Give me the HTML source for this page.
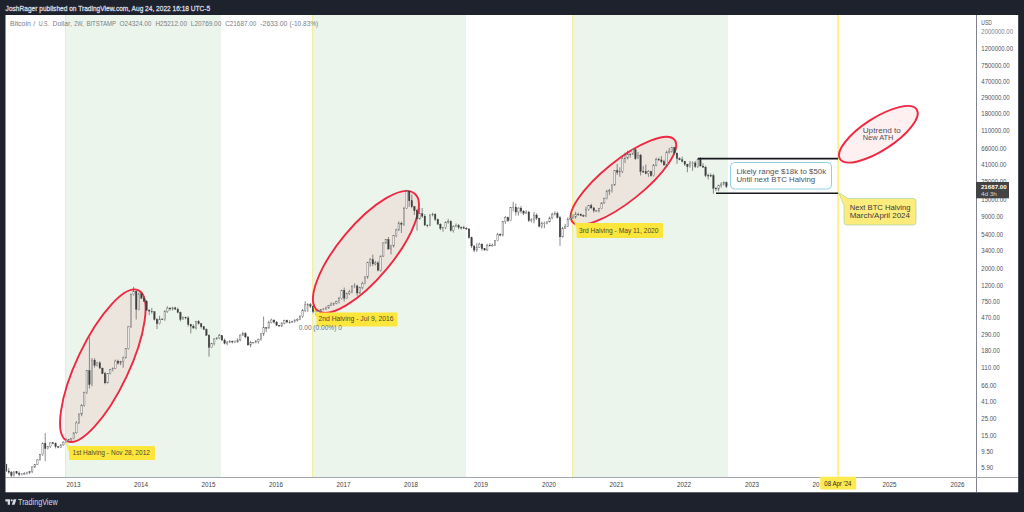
<!DOCTYPE html>
<html><head><meta charset="utf-8"><title>BTC chart</title>
<style>
html,body{margin:0;padding:0;width:1024px;height:512px;overflow:hidden;background:#1e222d;}
svg{display:block;font-family:"Liberation Sans",sans-serif;}
</style></head><body>
<svg width="1024" height="512" viewBox="0 0 1024 512">
<rect x="0" y="0" width="1024" height="512" fill="#1e222d"/>
<!-- header -->
<text x="5.6" y="10.6" fill="#d6d9e0" stroke="#d6d9e0" stroke-width="0.3" font-size="7.3" textLength="204.6" lengthAdjust="spacingAndGlyphs">JoshRager published on TradingView.com, Aug 24, 2022 16:18 UTC-5</text>
<!-- chart panel -->
<rect x="5.5" y="15" width="1012.7" height="477.3" fill="#ffffff"/>
<!-- green bands -->
<g fill="#ebf5ec">
<rect x="66" y="15" width="155" height="462"/>
<rect x="313" y="15" width="153" height="462"/>
<rect x="573" y="15" width="155" height="462"/>
</g>
<!-- halving lines -->
<g fill="#f5ee9e">
<rect x="65" y="15" width="1" height="462"/>
<rect x="312" y="15" width="1.2" height="462"/>
<rect x="572" y="15" width="1.2" height="462"/>
</g>
<rect x="837.2" y="15" width="1.8" height="462" fill="#fff08a"/>
<!-- title -->
<g fill="#7b7e88" font-size="7.2">
<text x="10" y="25.5" textLength="20.9" lengthAdjust="spacingAndGlyphs">Bitcoin</text>
<text x="33.2" y="25.5" textLength="2" lengthAdjust="spacingAndGlyphs">/</text>
<text x="38.7" y="25.5" textLength="10.5" lengthAdjust="spacingAndGlyphs">U.S.</text>
<text x="52.6" y="25.5" textLength="19.3" lengthAdjust="spacingAndGlyphs">Dollar,</text>
<text x="74.3" y="25.5" textLength="9.5" lengthAdjust="spacingAndGlyphs">2W,</text>
<text x="86.4" y="25.5" textLength="29.7" lengthAdjust="spacingAndGlyphs">BITSTAMP</text>
<text x="119.6" y="25.5" textLength="31.8" lengthAdjust="spacingAndGlyphs">O24324.00</text>
<text x="155.4" y="25.5" textLength="31.6" lengthAdjust="spacingAndGlyphs">H25212.00</text>
<text x="190.8" y="25.5" textLength="30.5" lengthAdjust="spacingAndGlyphs">L20769.00</text>
<text x="225.2" y="25.5" textLength="31.1" lengthAdjust="spacingAndGlyphs">C21687.00</text>
<text x="260.3" y="25.5" textLength="27.1" lengthAdjust="spacingAndGlyphs">-2633.00</text>
<text x="289.6" y="25.5" textLength="28.7" lengthAdjust="spacingAndGlyphs">(-10.83%)</text>
</g>
<!-- ellipses -->
<g fill="rgba(242,54,69,0.08)" stroke="#ef2843" stroke-width="1.9">
<ellipse cx="102.82" cy="365.74" rx="83.41" ry="26.09" transform="rotate(-64.71 102.82 365.74)"/>
<ellipse cx="365.92" cy="251.89" rx="76.02" ry="26.93" transform="rotate(-50.18 365.92 251.89)"/>
<ellipse cx="623.45" cy="180.89" rx="65.56" ry="20.49" transform="rotate(-38.73 623.45 180.89)"/>
<ellipse cx="878.37" cy="134.29" rx="45.69" ry="16.22" transform="rotate(-32.87 878.37 134.29)"/>
</g>
<!-- candles -->
<clipPath id="cp"><rect x="6" y="15" width="970" height="462"/></clipPath>
<g clip-path="url(#cp)"><path d="M1.00 469.67V480.34M3.60 461.69V472.79M6.20 463.75V472.01M8.80 468.04V473.72M11.40 470.92V478.10M14.00 471.34V476.71M16.60 471.08V473.90M19.20 471.42V476.25M21.80 473.00V475.29M24.40 472.17V474.71M27.00 471.66V474.58M29.60 470.85V474.11M32.20 466.28V473.16M34.80 463.93V468.03M37.40 459.09V465.00M40.00 453.90V460.51M42.60 442.43V455.73M45.20 432.99V461.21M47.80 445.95V449.47M50.40 442.20V447.85M53.00 442.41V444.33M55.60 442.47V448.42M58.20 445.89V448.28M60.80 444.28V447.81M63.40 441.21V445.78M66.00 437.90V442.87M68.60 439.08V440.45M71.20 438.15V441.27M73.80 432.30V439.35M76.40 421.17V433.64M79.00 413.13V423.85M81.60 404.18V416.24M84.20 391.66V406.61M86.80 370.21V394.04M89.40 337.46V388.51M92.00 358.10V386.31M94.60 358.23V367.55M97.20 361.94V366.49M99.80 361.16V368.84M102.40 367.65V374.13M105.00 372.02V384.22M107.60 373.11V383.34M110.20 369.00V374.41M112.80 367.35V371.32M115.40 359.63V369.02M118.00 359.64V364.72M120.60 360.78V365.21M123.20 356.53V367.73M125.80 348.07V358.41M128.40 325.91V349.53M131.00 293.52V327.80M133.60 286.87V295.59M136.20 290.63V319.43M138.80 292.79V310.32M141.40 292.44V298.77M144.00 296.41V301.95M146.60 299.99V310.96M149.20 309.02V315.14M151.80 307.89V313.75M154.40 311.29V320.47M157.00 318.17V329.04M159.60 315.82V324.52M162.20 318.33V319.95M164.80 310.20V320.84M167.40 306.30V312.92M170.00 307.09V310.73M172.60 306.84V310.54M175.20 306.68V309.61M177.80 307.67V313.22M180.40 311.58V321.41M183.00 316.43V319.93M185.60 316.58V319.40M188.20 316.23V326.44M190.80 323.81V333.33M193.40 324.34V328.72M196.00 320.85V329.44M198.60 320.20V324.63M201.20 323.26V328.44M203.80 326.13V330.07M206.40 328.43V335.81M209.00 334.32V356.64M211.60 342.93V347.82M214.20 338.19V345.45M216.80 337.18V339.80M219.40 333.91V339.07M222.00 335.18V340.77M224.60 338.49V344.37M227.20 341.19V345.41M229.80 339.98V343.04M232.40 340.45V343.46M235.00 340.31V343.16M237.60 338.42V342.50M240.20 334.50V341.31M242.80 331.64V336.08M245.40 332.15V338.13M248.00 336.05V345.75M250.60 340.86V347.23M253.20 342.01V343.04M255.80 339.99V343.26M258.40 338.62V343.65M261.00 332.79V340.61M263.60 316.51V336.03M266.20 327.17V332.21M268.80 320.65V328.70M271.40 318.60V323.46M274.00 319.55V323.72M276.60 320.93V325.95M279.20 324.85V326.66M281.80 322.39V326.90M284.40 319.61V324.48M287.00 319.61V323.34M289.60 320.13V323.40M292.20 320.65V322.58M294.80 319.17V322.74M297.40 318.14V321.64M300.00 315.33V320.23M302.60 308.98V317.81M305.20 301.23V312.19M307.80 303.15V311.93M310.40 303.05V307.99M313.00 305.70V313.34M315.60 309.84V315.14M318.20 310.33V311.93M320.80 309.00V312.03M323.40 308.03V310.26M326.00 306.43V309.95M328.60 305.18V308.58M331.20 302.32V306.04M333.80 302.72V305.89M336.40 300.71V304.34M339.00 296.90V303.43M341.60 289.77V299.47M344.20 287.56V301.46M346.80 292.63V298.72M349.40 289.87V295.02M352.00 285.27V293.14M354.60 283.32V287.86M357.20 284.67V295.66M359.80 286.72V293.90M362.40 281.72V289.33M365.00 276.24V284.27M367.60 261.83V278.81M370.20 257.99V266.61M372.80 254.61V265.98M375.40 260.91V265.40M378.00 261.14V271.33M380.60 255.59V271.56M383.20 242.29V257.03M385.80 238.99V243.68M388.40 237.00V249.44M391.00 244.81V254.38M393.60 235.28V247.40M396.20 228.67V237.23M398.80 221.41V230.76M401.40 221.62V232.98M404.00 206.88V226.03M406.60 189.85V208.96M409.20 190.56V206.85M411.80 194.51V208.29M414.40 205.96V214.86M417.00 209.16V230.61M419.60 207.72V219.60M422.20 208.01V217.84M424.80 214.10V225.87M427.40 224.47V227.35M430.00 214.44V226.19M432.60 212.77V216.38M435.20 213.33V220.93M437.80 218.61V224.84M440.40 223.29V230.18M443.00 227.06V231.78M445.60 221.59V229.04M448.20 218.87V223.72M450.80 220.30V231.55M453.40 225.32V232.58M456.00 223.42V227.27M458.60 224.07V229.33M461.20 226.44V229.61M463.80 225.79V228.89M466.40 227.15V229.84M469.00 228.28V238.74M471.60 236.67V248.13M474.20 245.06V252.17M476.80 242.84V251.76M479.40 242.72V247.81M482.00 243.46V250.60M484.60 248.22V250.91M487.20 243.74V250.92M489.80 243.26V246.36M492.40 243.73V246.57M495.00 239.97V246.16M497.60 232.77V241.13M500.20 233.29V236.19M502.80 221.03V236.38M505.40 216.08V223.89M508.00 216.67V222.06M510.60 207.13V221.18M513.20 201.86V211.43M515.80 203.58V215.59M518.40 207.28V215.59M521.00 206.00V213.44M523.60 210.15V215.04M526.20 210.15V213.66M528.80 210.93V222.06M531.40 218.27V222.39M534.00 212.09V223.42M536.60 213.38V220.11M539.20 217.66V227.39M541.80 221.62V228.37M544.40 221.62V228.14M547.00 221.20V224.36M549.60 216.60V222.42M552.20 212.56V219.12M554.80 211.43V215.51M557.40 211.60V218.47M560.00 215.96V245.83M562.60 226.83V237.28M565.20 223.89V229.06M567.80 217.25V227.09M570.40 213.27V219.81M573.00 214.14V218.98M575.60 211.76V218.75M578.20 212.70V215.94M580.80 213.51V216.15M583.40 214.38V216.72M586.00 206.56V217.01M588.60 204.94V210.81M591.20 203.80V209.06M593.80 207.20V212.76M596.40 209.89V211.76M599.00 207.82V212.39M601.60 202.35V209.23M604.20 197.53V203.93M606.80 189.71V199.29M609.40 188.85V194.91M612.00 184.24V192.61M614.60 170.02V185.79M617.20 163.94V174.98M619.80 167.33V176.83M622.40 157.22V173.14M625.00 152.62V163.09M627.60 150.71V159.36M630.20 153.57V157.71M632.80 149.30V154.88M635.40 148.97V160.04M638.00 151.95V159.12M640.60 153.91V175.43M643.20 166.00V172.98M645.80 164.47V174.32M648.40 170.00V176.83M651.00 170.82V176.66M653.60 164.16V176.62M656.20 157.67V166.31M658.80 157.58V160.57M661.40 155.98V163.25M664.00 159.79V165.91M666.60 150.71V166.83M669.20 147.88V153.64M671.80 146.87V152.66M674.40 146.87V154.93M677.00 152.61V163.89M679.60 157.32V160.31M682.20 156.57V162.49M684.80 160.89V165.91M687.40 163.82V172.27M690.00 160.92V167.78M692.60 161.31V170.84M695.20 160.94V168.06M697.80 157.98V168.12M700.40 157.28V166.66M703.00 163.17V167.98M705.60 165.65V177.17M708.20 173.49V179.43M710.80 173.43V177.07M713.40 173.77V193.72M716.00 187.05V191.09M718.60 184.70V191.27M721.20 182.24V187.66M723.80 181.41V185.35M726.40 181.39V188.04" stroke="#5a5a5a" stroke-width="0.7" fill="none"/><g fill="#f4f4f4" stroke="#6a6a6a" stroke-width="0.45"><rect x="0.25" y="471.19" width="1.5" height="8.51"/><rect x="2.85" y="464.36" width="1.5" height="6.82"/><rect x="13.25" y="471.79" width="1.5" height="3.72"/><rect x="21.05" y="474.06" width="1.5" height="0.60"/><rect x="23.65" y="473.43" width="1.5" height="0.64"/><rect x="26.25" y="472.80" width="1.5" height="0.62"/><rect x="28.85" y="471.32" width="1.5" height="1.48"/><rect x="31.45" y="466.95" width="1.5" height="4.37"/><rect x="34.05" y="464.40" width="1.5" height="2.55"/><rect x="36.65" y="459.90" width="1.5" height="4.50"/><rect x="39.25" y="454.69" width="1.5" height="5.21"/><rect x="41.85" y="443.26" width="1.5" height="11.43"/><rect x="47.05" y="446.63" width="1.5" height="1.93"/><rect x="49.65" y="442.83" width="1.5" height="3.79"/><rect x="60.05" y="444.91" width="1.5" height="2.39"/><rect x="62.65" y="442.19" width="1.5" height="2.72"/><rect x="65.25" y="439.89" width="1.5" height="2.30"/><rect x="67.85" y="439.68" width="1.5" height="0.60"/><rect x="70.45" y="438.61" width="1.5" height="1.07"/><rect x="73.05" y="432.82" width="1.5" height="5.79"/><rect x="75.65" y="422.94" width="1.5" height="9.88"/><rect x="78.25" y="414.21" width="1.5" height="8.73"/><rect x="80.85" y="405.48" width="1.5" height="8.73"/><rect x="83.45" y="392.50" width="1.5" height="12.98"/><rect x="86.05" y="370.68" width="1.5" height="21.82"/><rect x="91.25" y="360.11" width="1.5" height="24.44"/><rect x="96.45" y="362.86" width="1.5" height="2.65"/><rect x="106.85" y="373.59" width="1.5" height="9.26"/><rect x="109.45" y="369.67" width="1.5" height="3.92"/><rect x="112.05" y="368.43" width="1.5" height="1.24"/><rect x="114.65" y="361.06" width="1.5" height="7.37"/><rect x="119.85" y="361.22" width="1.5" height="1.99"/><rect x="122.45" y="357.92" width="1.5" height="3.31"/><rect x="125.05" y="348.53" width="1.5" height="9.38"/><rect x="127.65" y="326.84" width="1.5" height="21.69"/><rect x="130.25" y="294.70" width="1.5" height="32.14"/><rect x="132.85" y="291.19" width="1.5" height="3.51"/><rect x="138.05" y="293.81" width="1.5" height="15.51"/><rect x="158.85" y="319.01" width="1.5" height="4.74"/><rect x="164.05" y="311.50" width="1.5" height="8.01"/><rect x="166.65" y="308.07" width="1.5" height="3.43"/><rect x="171.85" y="307.86" width="1.5" height="1.07"/><rect x="182.25" y="317.26" width="1.5" height="2.16"/><rect x="195.25" y="321.71" width="1.5" height="6.31"/><rect x="210.85" y="343.56" width="1.5" height="3.85"/><rect x="213.45" y="338.91" width="1.5" height="4.65"/><rect x="216.05" y="338.01" width="1.5" height="0.90"/><rect x="218.65" y="335.77" width="1.5" height="2.25"/><rect x="226.45" y="342.04" width="1.5" height="1.45"/><rect x="229.05" y="341.45" width="1.5" height="0.60"/><rect x="234.25" y="342.05" width="1.5" height="0.60"/><rect x="236.85" y="339.90" width="1.5" height="2.15"/><rect x="239.45" y="335.03" width="1.5" height="4.88"/><rect x="242.05" y="333.47" width="1.5" height="1.55"/><rect x="249.85" y="342.44" width="1.5" height="2.54"/><rect x="252.45" y="342.44" width="1.5" height="0.60"/><rect x="255.05" y="341.68" width="1.5" height="0.77"/><rect x="257.65" y="339.43" width="1.5" height="2.24"/><rect x="260.25" y="334.00" width="1.5" height="5.44"/><rect x="262.85" y="327.72" width="1.5" height="6.28"/><rect x="268.05" y="322.67" width="1.5" height="5.30"/><rect x="270.65" y="320.01" width="1.5" height="2.65"/><rect x="281.05" y="323.04" width="1.5" height="3.07"/><rect x="283.65" y="320.43" width="1.5" height="2.61"/><rect x="291.45" y="321.58" width="1.5" height="0.60"/><rect x="294.05" y="320.18" width="1.5" height="1.40"/><rect x="296.65" y="319.26" width="1.5" height="0.92"/><rect x="299.25" y="316.43" width="1.5" height="2.83"/><rect x="301.85" y="310.43" width="1.5" height="6.00"/><rect x="304.45" y="304.80" width="1.5" height="5.63"/><rect x="307.05" y="304.70" width="1.5" height="0.60"/><rect x="314.85" y="311.32" width="1.5" height="0.60"/><rect x="317.45" y="311.17" width="1.5" height="0.60"/><rect x="320.05" y="309.43" width="1.5" height="1.74"/><rect x="322.65" y="309.08" width="1.5" height="0.60"/><rect x="325.25" y="307.94" width="1.5" height="1.14"/><rect x="327.85" y="305.62" width="1.5" height="2.31"/><rect x="330.45" y="304.05" width="1.5" height="1.57"/><rect x="333.05" y="303.17" width="1.5" height="0.88"/><rect x="335.65" y="301.68" width="1.5" height="1.49"/><rect x="338.25" y="298.74" width="1.5" height="2.94"/><rect x="340.85" y="290.40" width="1.5" height="8.34"/><rect x="346.05" y="293.49" width="1.5" height="4.75"/><rect x="348.65" y="291.92" width="1.5" height="1.57"/><rect x="351.25" y="286.52" width="1.5" height="5.40"/><rect x="353.85" y="285.96" width="1.5" height="0.60"/><rect x="359.05" y="287.39" width="1.5" height="5.60"/><rect x="361.65" y="283.61" width="1.5" height="3.78"/><rect x="364.25" y="277.01" width="1.5" height="6.59"/><rect x="366.85" y="262.45" width="1.5" height="14.56"/><rect x="369.45" y="259.79" width="1.5" height="2.66"/><rect x="374.65" y="262.86" width="1.5" height="1.06"/><rect x="379.85" y="256.02" width="1.5" height="14.29"/><rect x="382.45" y="242.97" width="1.5" height="13.05"/><rect x="385.05" y="239.56" width="1.5" height="3.41"/><rect x="390.25" y="245.94" width="1.5" height="3.09"/><rect x="392.85" y="235.75" width="1.5" height="10.19"/><rect x="395.45" y="229.96" width="1.5" height="5.80"/><rect x="398.05" y="223.25" width="1.5" height="6.71"/><rect x="403.25" y="208.31" width="1.5" height="15.99"/><rect x="405.85" y="191.09" width="1.5" height="17.22"/><rect x="418.85" y="213.69" width="1.5" height="5.24"/><rect x="429.25" y="214.88" width="1.5" height="10.27"/><rect x="431.85" y="214.18" width="1.5" height="0.70"/><rect x="442.25" y="227.61" width="1.5" height="0.83"/><rect x="444.85" y="222.05" width="1.5" height="5.56"/><rect x="447.45" y="221.49" width="1.5" height="0.60"/><rect x="452.65" y="226.63" width="1.5" height="3.90"/><rect x="455.25" y="225.65" width="1.5" height="0.99"/><rect x="476.05" y="247.19" width="1.5" height="2.91"/><rect x="478.65" y="244.09" width="1.5" height="3.10"/><rect x="486.45" y="245.39" width="1.5" height="4.55"/><rect x="491.65" y="245.06" width="1.5" height="0.87"/><rect x="494.25" y="240.61" width="1.5" height="4.45"/><rect x="496.85" y="234.26" width="1.5" height="6.35"/><rect x="502.05" y="221.62" width="1.5" height="13.58"/><rect x="504.65" y="217.58" width="1.5" height="4.03"/><rect x="509.85" y="207.59" width="1.5" height="13.16"/><rect x="512.45" y="207.13" width="1.5" height="0.60"/><rect x="517.65" y="208.07" width="1.5" height="3.95"/><rect x="525.45" y="212.04" width="1.5" height="1.16"/><rect x="530.65" y="219.88" width="1.5" height="0.75"/><rect x="533.25" y="215.05" width="1.5" height="4.84"/><rect x="541.05" y="223.54" width="1.5" height="2.78"/><rect x="543.65" y="223.12" width="1.5" height="0.60"/><rect x="546.25" y="221.84" width="1.5" height="1.28"/><rect x="548.85" y="217.96" width="1.5" height="3.88"/><rect x="551.45" y="214.47" width="1.5" height="3.49"/><rect x="554.05" y="213.48" width="1.5" height="0.99"/><rect x="561.85" y="228.14" width="1.5" height="8.73"/><rect x="564.45" y="226.38" width="1.5" height="1.76"/><rect x="567.05" y="219.31" width="1.5" height="7.07"/><rect x="569.65" y="218.27" width="1.5" height="1.04"/><rect x="572.25" y="217.10" width="1.5" height="1.18"/><rect x="574.85" y="214.14" width="1.5" height="2.95"/><rect x="585.25" y="209.52" width="1.5" height="6.55"/><rect x="587.85" y="205.45" width="1.5" height="4.07"/><rect x="595.65" y="210.78" width="1.5" height="0.60"/><rect x="598.25" y="208.61" width="1.5" height="2.17"/><rect x="600.85" y="202.90" width="1.5" height="5.70"/><rect x="603.45" y="198.52" width="1.5" height="4.38"/><rect x="606.05" y="191.57" width="1.5" height="6.95"/><rect x="608.65" y="190.73" width="1.5" height="0.84"/><rect x="611.25" y="184.99" width="1.5" height="5.74"/><rect x="613.85" y="170.52" width="1.5" height="14.47"/><rect x="619.05" y="171.65" width="1.5" height="0.69"/><rect x="621.65" y="158.78" width="1.5" height="12.87"/><rect x="624.25" y="158.19" width="1.5" height="0.60"/><rect x="626.85" y="154.03" width="1.5" height="4.16"/><rect x="632.05" y="149.74" width="1.5" height="4.40"/><rect x="637.25" y="155.11" width="1.5" height="3.52"/><rect x="647.65" y="171.34" width="1.5" height="2.20"/><rect x="652.85" y="165.10" width="1.5" height="10.66"/><rect x="655.45" y="159.49" width="1.5" height="5.61"/><rect x="665.85" y="152.41" width="1.5" height="12.48"/><rect x="668.45" y="151.25" width="1.5" height="1.16"/><rect x="671.05" y="147.63" width="1.5" height="3.62"/><rect x="689.25" y="163.13" width="1.5" height="3.60"/><rect x="691.85" y="162.93" width="1.5" height="0.60"/><rect x="697.05" y="159.17" width="1.5" height="7.40"/><rect x="717.85" y="185.30" width="1.5" height="3.70"/><rect x="720.45" y="184.10" width="1.5" height="1.20"/><rect x="723.05" y="182.62" width="1.5" height="1.47"/></g><g fill="#3c3c3c" stroke="#3c3c3c" stroke-width="0.3"><rect x="5.45" y="464.36" width="1.5" height="6.62"/><rect x="8.05" y="470.98" width="1.5" height="1.33"/><rect x="10.65" y="472.31" width="1.5" height="3.20"/><rect x="15.85" y="471.79" width="1.5" height="1.44"/><rect x="18.45" y="473.23" width="1.5" height="1.18"/><rect x="44.45" y="443.26" width="1.5" height="5.30"/><rect x="52.25" y="442.83" width="1.5" height="0.72"/><rect x="54.85" y="443.55" width="1.5" height="3.20"/><rect x="57.45" y="446.75" width="1.5" height="0.60"/><rect x="88.65" y="370.68" width="1.5" height="13.87"/><rect x="93.85" y="360.11" width="1.5" height="5.40"/><rect x="99.05" y="362.86" width="1.5" height="5.23"/><rect x="101.65" y="368.09" width="1.5" height="5.54"/><rect x="104.25" y="373.63" width="1.5" height="9.22"/><rect x="117.25" y="361.06" width="1.5" height="2.15"/><rect x="135.45" y="291.19" width="1.5" height="18.13"/><rect x="140.65" y="293.81" width="1.5" height="4.46"/><rect x="143.25" y="298.27" width="1.5" height="3.10"/><rect x="145.85" y="301.37" width="1.5" height="8.83"/><rect x="148.45" y="310.21" width="1.5" height="0.95"/><rect x="151.05" y="311.15" width="1.5" height="0.60"/><rect x="153.65" y="311.74" width="1.5" height="7.69"/><rect x="156.25" y="319.43" width="1.5" height="4.32"/><rect x="161.45" y="319.01" width="1.5" height="0.60"/><rect x="169.25" y="308.07" width="1.5" height="0.86"/><rect x="174.45" y="307.86" width="1.5" height="1.33"/><rect x="177.05" y="309.19" width="1.5" height="3.24"/><rect x="179.65" y="312.43" width="1.5" height="7.00"/><rect x="184.85" y="317.26" width="1.5" height="0.67"/><rect x="187.45" y="317.94" width="1.5" height="6.52"/><rect x="190.05" y="324.46" width="1.5" height="1.68"/><rect x="192.65" y="326.13" width="1.5" height="1.88"/><rect x="197.85" y="321.71" width="1.5" height="1.96"/><rect x="200.45" y="323.67" width="1.5" height="3.14"/><rect x="203.05" y="326.81" width="1.5" height="2.58"/><rect x="205.65" y="329.39" width="1.5" height="5.96"/><rect x="208.25" y="335.35" width="1.5" height="12.05"/><rect x="221.25" y="335.77" width="1.5" height="4.34"/><rect x="223.85" y="340.11" width="1.5" height="3.39"/><rect x="231.65" y="341.45" width="1.5" height="0.60"/><rect x="244.65" y="333.47" width="1.5" height="3.46"/><rect x="247.25" y="336.94" width="1.5" height="8.05"/><rect x="265.45" y="327.72" width="1.5" height="0.60"/><rect x="273.25" y="320.01" width="1.5" height="2.10"/><rect x="275.85" y="322.12" width="1.5" height="3.31"/><rect x="278.45" y="325.43" width="1.5" height="0.67"/><rect x="286.25" y="320.43" width="1.5" height="1.65"/><rect x="288.85" y="322.09" width="1.5" height="0.60"/><rect x="309.65" y="304.70" width="1.5" height="1.49"/><rect x="312.25" y="306.19" width="1.5" height="5.48"/><rect x="343.45" y="290.40" width="1.5" height="7.84"/><rect x="356.45" y="285.96" width="1.5" height="7.02"/><rect x="372.05" y="259.79" width="1.5" height="4.13"/><rect x="377.25" y="262.86" width="1.5" height="7.45"/><rect x="387.65" y="239.56" width="1.5" height="9.47"/><rect x="400.65" y="223.25" width="1.5" height="1.05"/><rect x="408.45" y="191.09" width="1.5" height="9.71"/><rect x="411.05" y="200.80" width="1.5" height="5.86"/><rect x="413.65" y="206.66" width="1.5" height="4.13"/><rect x="416.25" y="210.79" width="1.5" height="8.14"/><rect x="421.45" y="213.69" width="1.5" height="2.46"/><rect x="424.05" y="216.15" width="1.5" height="8.93"/><rect x="426.65" y="225.08" width="1.5" height="0.60"/><rect x="434.45" y="214.18" width="1.5" height="5.13"/><rect x="437.05" y="219.30" width="1.5" height="4.88"/><rect x="439.65" y="224.18" width="1.5" height="4.25"/><rect x="450.05" y="221.49" width="1.5" height="9.04"/><rect x="457.85" y="225.65" width="1.5" height="1.82"/><rect x="460.45" y="227.46" width="1.5" height="0.60"/><rect x="463.05" y="227.62" width="1.5" height="0.74"/><rect x="465.65" y="228.36" width="1.5" height="0.60"/><rect x="468.25" y="228.87" width="1.5" height="8.79"/><rect x="470.85" y="237.66" width="1.5" height="8.38"/><rect x="473.45" y="246.05" width="1.5" height="4.05"/><rect x="481.25" y="244.09" width="1.5" height="4.64"/><rect x="483.85" y="248.73" width="1.5" height="1.21"/><rect x="489.05" y="245.39" width="1.5" height="0.60"/><rect x="499.45" y="234.26" width="1.5" height="0.94"/><rect x="507.25" y="217.58" width="1.5" height="3.17"/><rect x="515.05" y="207.13" width="1.5" height="4.89"/><rect x="520.25" y="208.07" width="1.5" height="3.04"/><rect x="522.85" y="211.12" width="1.5" height="2.09"/><rect x="528.05" y="212.04" width="1.5" height="8.58"/><rect x="535.85" y="215.05" width="1.5" height="3.09"/><rect x="538.45" y="218.14" width="1.5" height="8.19"/><rect x="556.65" y="213.48" width="1.5" height="4.28"/><rect x="559.25" y="217.75" width="1.5" height="19.11"/><rect x="577.45" y="214.14" width="1.5" height="0.60"/><rect x="580.05" y="214.32" width="1.5" height="1.27"/><rect x="582.65" y="215.59" width="1.5" height="0.60"/><rect x="590.45" y="205.45" width="1.5" height="2.41"/><rect x="593.05" y="207.86" width="1.5" height="2.92"/><rect x="616.45" y="170.52" width="1.5" height="1.82"/><rect x="629.45" y="154.03" width="1.5" height="0.60"/><rect x="634.65" y="149.74" width="1.5" height="8.89"/><rect x="639.85" y="155.11" width="1.5" height="16.36"/><rect x="642.45" y="171.46" width="1.5" height="0.60"/><rect x="645.05" y="171.65" width="1.5" height="1.89"/><rect x="650.25" y="171.34" width="1.5" height="4.42"/><rect x="658.05" y="159.49" width="1.5" height="0.60"/><rect x="660.65" y="159.96" width="1.5" height="1.64"/><rect x="663.25" y="161.61" width="1.5" height="3.29"/><rect x="673.65" y="147.63" width="1.5" height="5.45"/><rect x="676.25" y="153.07" width="1.5" height="5.56"/><rect x="678.85" y="158.63" width="1.5" height="1.16"/><rect x="681.45" y="159.80" width="1.5" height="1.51"/><rect x="684.05" y="161.31" width="1.5" height="2.93"/><rect x="686.65" y="164.24" width="1.5" height="2.48"/><rect x="694.45" y="162.93" width="1.5" height="3.65"/><rect x="699.65" y="159.17" width="1.5" height="6.83"/><rect x="702.25" y="166.00" width="1.5" height="1.15"/><rect x="704.85" y="167.15" width="1.5" height="8.29"/><rect x="707.45" y="175.43" width="1.5" height="0.60"/><rect x="710.05" y="175.49" width="1.5" height="0.60"/><rect x="712.65" y="175.73" width="1.5" height="12.64"/><rect x="715.25" y="188.37" width="1.5" height="0.62"/><rect x="725.65" y="182.62" width="1.5" height="3.93"/></g></g>
<!-- range lines -->
<g stroke="#16181d" stroke-width="1.6">
<line x1="698" y1="158.6" x2="838" y2="158.6"/>
<line x1="716" y1="193.3" x2="838" y2="193.3"/>
</g>
<!-- likely range box -->
<rect x="730.5" y="162.5" width="101" height="26.5" rx="4" fill="#ffffff" stroke="#86c9dc" stroke-width="0.9"/>
<g font-size="7.4" fill="#50535e">
<text x="736.4" y="174.3" textLength="89.8" lengthAdjust="spacingAndGlyphs">Likely range $18k to $50k</text>
<text x="736.4" y="182.1" textLength="78.8" lengthAdjust="spacingAndGlyphs">Until next BTC Halving</text>
</g>
<!-- next halving callout -->
<path d="M838.5 192.5 L848 198.4 H913 Q916 198.4 916 201.4 V222 Q916 225 913 225 H847 Q844 225 844 222 V205.5 Z" fill="#fdeb7c" stroke="#a8d3a8" stroke-width="0.7"/>
<g font-size="7.4" fill="#3c3c3c">
<text x="849.7" y="210" textLength="60.8" lengthAdjust="spacingAndGlyphs">Next BTC Halving</text>
<text x="849.7" y="217.6" textLength="60.3" lengthAdjust="spacingAndGlyphs">March/April 2024</text>
</g>
<!-- uptrend text -->
<g font-size="7.4" fill="#50535e">
<text x="862.7" y="132.6" textLength="38.2" lengthAdjust="spacingAndGlyphs">Uptrend to</text>
<text x="862.7" y="139.9" textLength="30.8" lengthAdjust="spacingAndGlyphs">New ATH</text>
</g>
<!-- halving labels -->
<g fill="#fde63c">
<path d="M65.5 441.5 L69 446 H154 Q155 446 155 447 V459 Q155 460 154 460 H70 Q69 460 69 459 V452 Z"/>
<path d="M313 306 L316.5 312.5 H396.5 Q397.5 312.5 397.5 313.5 V325.5 Q397.5 326.5 396.5 326.5 H317.5 Q316.5 326.5 316.5 325.5 V318 Z"/>
<path d="M573 218 L576.5 223 H662 Q663 223 663 224 V237 Q663 238 662 238 H577.5 Q576.5 238 576.5 237 V229 Z"/>
</g>
<g font-size="6.9" fill="#4e4a2c">
<text x="72.5" y="455.2" textLength="77.5" lengthAdjust="spacingAndGlyphs">1st Halving - Nov 28, 2012</text>
<text x="318.5" y="321.3" textLength="75" lengthAdjust="spacingAndGlyphs">2nd Halving - Jul 9, 2016</text>
<text x="579.1" y="232.6" textLength="79.4" lengthAdjust="spacingAndGlyphs">3rd Halving - May 11, 2020</text>
</g>
<text x="298.8" y="330.2" font-size="6.8" fill="#6a6d78" textLength="43" lengthAdjust="spacingAndGlyphs">0.00 (0.00%) 0</text>
<!-- axes -->
<rect x="976" y="15" width="1" height="477" fill="#80838d"/>
<rect x="6" y="477" width="1012" height="1" fill="#a3a6af"/>
<!-- price labels -->
<text x="981.3" y="24.5" font-size="6.4" fill="#50535e" textLength="10.6" lengthAdjust="spacingAndGlyphs">USD</text>
<g font-size="6.6">
<text x="981.3" y="33.8" fill="#7d808a" textLength="31.7" lengthAdjust="spacingAndGlyphs">2000000.00</text><text x="981.3" y="51.3" fill="#50535e" textLength="31.7" lengthAdjust="spacingAndGlyphs">1200000.00</text><text x="981.3" y="67.5" fill="#50535e" textLength="28.4" lengthAdjust="spacingAndGlyphs">750000.00</text><text x="981.3" y="83.5" fill="#50535e" textLength="28.4" lengthAdjust="spacingAndGlyphs">470000.00</text><text x="981.3" y="100.0" fill="#50535e" textLength="28.4" lengthAdjust="spacingAndGlyphs">290000.00</text><text x="981.3" y="116.4" fill="#50535e" textLength="28.4" lengthAdjust="spacingAndGlyphs">180000.00</text><text x="981.3" y="133.3" fill="#50535e" textLength="28.4" lengthAdjust="spacingAndGlyphs">110000.00</text><text x="981.3" y="150.8" fill="#50535e" textLength="25.1" lengthAdjust="spacingAndGlyphs">66000.00</text><text x="981.3" y="167.1" fill="#50535e" textLength="25.1" lengthAdjust="spacingAndGlyphs">41000.00</text><text x="981.3" y="184.1" fill="#50535e" textLength="25.1" lengthAdjust="spacingAndGlyphs">25000.00</text><text x="981.3" y="201.6" fill="#50535e" textLength="25.1" lengthAdjust="spacingAndGlyphs">15000.00</text><text x="981.3" y="219.1" fill="#50535e" textLength="21.8" lengthAdjust="spacingAndGlyphs">9000.00</text><text x="981.3" y="236.6" fill="#50535e" textLength="21.8" lengthAdjust="spacingAndGlyphs">5400.00</text><text x="981.3" y="252.5" fill="#50535e" textLength="21.8" lengthAdjust="spacingAndGlyphs">3400.00</text><text x="981.3" y="270.7" fill="#50535e" textLength="21.8" lengthAdjust="spacingAndGlyphs">2000.00</text><text x="981.3" y="288.2" fill="#50535e" textLength="21.8" lengthAdjust="spacingAndGlyphs">1200.00</text><text x="981.3" y="304.3" fill="#50535e" textLength="18.5" lengthAdjust="spacingAndGlyphs">750.00</text><text x="981.3" y="320.3" fill="#50535e" textLength="18.5" lengthAdjust="spacingAndGlyphs">470.00</text><text x="981.3" y="336.9" fill="#50535e" textLength="18.5" lengthAdjust="spacingAndGlyphs">290.00</text><text x="981.3" y="353.2" fill="#50535e" textLength="18.5" lengthAdjust="spacingAndGlyphs">180.00</text><text x="981.3" y="370.1" fill="#50535e" textLength="18.5" lengthAdjust="spacingAndGlyphs">110.00</text><text x="981.3" y="387.6" fill="#50535e" textLength="15.2" lengthAdjust="spacingAndGlyphs">66.00</text><text x="981.3" y="404.0" fill="#50535e" textLength="15.2" lengthAdjust="spacingAndGlyphs">41.00</text><text x="981.3" y="420.9" fill="#50535e" textLength="15.2" lengthAdjust="spacingAndGlyphs">25.00</text><text x="981.3" y="438.4" fill="#50535e" textLength="15.2" lengthAdjust="spacingAndGlyphs">15.00</text><text x="981.3" y="454.1" fill="#50535e" textLength="11.9" lengthAdjust="spacingAndGlyphs">9.50</text><text x="981.3" y="470.4" fill="#50535e" textLength="11.9" lengthAdjust="spacingAndGlyphs">5.90</text>
</g>
<!-- last price -->
<rect x="976" y="182" width="33" height="16.3" fill="#434343"/>
<text x="980.9" y="189.2" font-size="6.2" font-weight="bold" fill="#ffffff" textLength="25.8" lengthAdjust="spacingAndGlyphs">21687.00</text>
<text x="980.9" y="196.2" font-size="6.2" fill="#d6d6d6" textLength="16" lengthAdjust="spacingAndGlyphs">4d 3h</text>
<!-- time labels -->
<g font-size="6.6">
<text x="66.5" y="486.9" fill="#3c3f48" textLength="14.0" lengthAdjust="spacingAndGlyphs">2013</text><text x="134.0" y="486.9" fill="#3c3f48" textLength="14.0" lengthAdjust="spacingAndGlyphs">2014</text><text x="201.5" y="486.9" fill="#3c3f48" textLength="14.0" lengthAdjust="spacingAndGlyphs">2015</text><text x="269.0" y="486.9" fill="#3c3f48" textLength="14.0" lengthAdjust="spacingAndGlyphs">2016</text><text x="336.5" y="486.9" fill="#3c3f48" textLength="14.0" lengthAdjust="spacingAndGlyphs">2017</text><text x="404.0" y="486.9" fill="#3c3f48" textLength="14.0" lengthAdjust="spacingAndGlyphs">2018</text><text x="474.0" y="486.9" fill="#3c3f48" textLength="14.0" lengthAdjust="spacingAndGlyphs">2019</text><text x="542.0" y="486.9" fill="#3c3f48" textLength="14.0" lengthAdjust="spacingAndGlyphs">2020</text><text x="609.5" y="486.9" fill="#3c3f48" textLength="14.0" lengthAdjust="spacingAndGlyphs">2021</text><text x="677.0" y="486.9" fill="#3c3f48" textLength="14.0" lengthAdjust="spacingAndGlyphs">2022</text><text x="745.0" y="486.9" fill="#3c3f48" textLength="14.0" lengthAdjust="spacingAndGlyphs">2023</text><text x="812.5" y="486.9" fill="#3c3f48" textLength="7.0" lengthAdjust="spacingAndGlyphs">20</text><text x="882.5" y="486.9" fill="#3c3f48" textLength="14.0" lengthAdjust="spacingAndGlyphs">2025</text><text x="950.5" y="486.9" fill="#3c3f48" textLength="14.0" lengthAdjust="spacingAndGlyphs">2026</text>
</g>
<rect x="820.2" y="476.8" width="36" height="12.7" rx="1" fill="#fcea4e"/>
<text x="824.3" y="486.4" font-size="6.7" fill="#2a2a20" textLength="27.2" lengthAdjust="spacingAndGlyphs">08 Apr '24</text>
<!-- footer logo -->
<g fill="#d8dbe2">
<path d="M5.35 499.2 H10 V504.8 H7.7 V501.4 H5.35 Z"/>
<circle cx="11.7" cy="500.3" r="1.1"/>
<path d="M13.6 499.2 H16.4 L14.6 504.8 H11.8 Z"/>
<text x="18" y="504.8" font-size="8.4" textLength="39.6" lengthAdjust="spacingAndGlyphs">TradingView</text>
</g>
</svg>
</body></html>
